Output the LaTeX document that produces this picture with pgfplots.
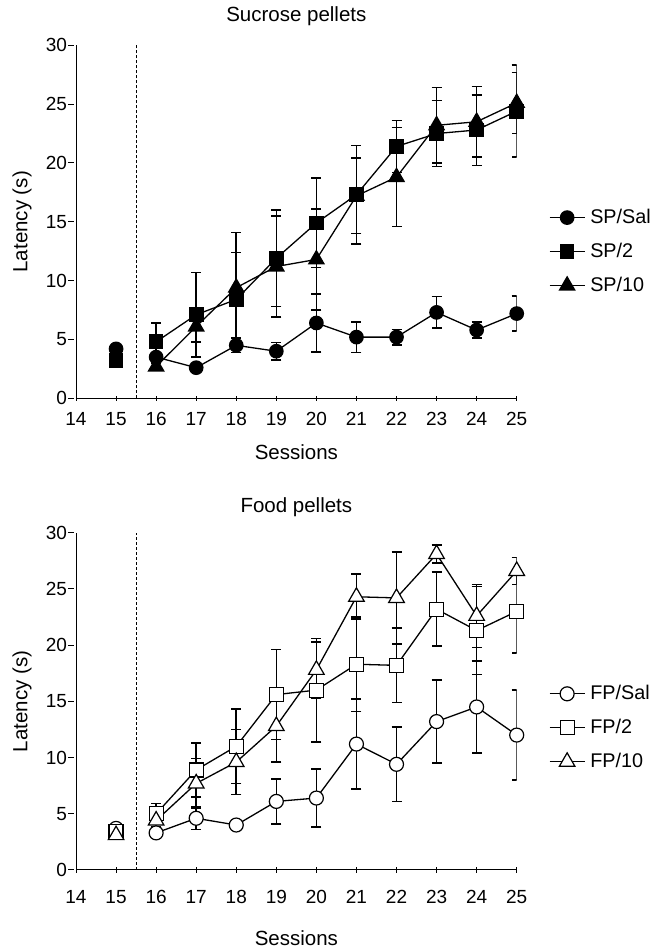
\documentclass[border=0pt]{standalone}
\usepackage{pgfplots}
\pgfplotsset{compat=1.18}
\usepackage{fontspec}
\setmainfont{Liberation Sans}

\newcommand{\fs}{\fontsize{20.5}{24}\selectfont}
\newcommand{\fl}{\fontsize{19.8}{24}\selectfont}
\newcommand{\ft}{\fontsize{19}{22}\selectfont}

\pgfplotsset{
  lat/.style={
    scale only axis, width=440.7pt, anchor=south west,
    xmin=14, xmax=25, ymin=0, ymax=30,
    xtick={14,...,25}, ytick={0,5,...,30},
    axis lines=left, axis line style={-, line width=1pt},
    tick style={line width=1pt, black}, major tick length=5pt,
    ytick style={xshift=-5pt},
    tick label style={font=\ft},
    /pgf/number format/assume math mode=true,
    yticklabel style={xshift=-3pt},
    label style={font=\fs},
    title style={font=\fs, anchor=base},
    ylabel={Latency (s)},
    y label style={at={([xshift=-54pt]axis description cs:0,0.5)}, anchor=center},
    legend cell align=left,
    legend style={draw=none, fill=none, font=\fl, anchor=north west,
      row sep=15pt, nodes={inner sep=0pt, text height=15pt, text depth=4pt},
      /tikz/every odd column/.style={column sep=5pt}},
    legend image code/.code={\draw[mark repeat=2, mark phase=2, #1]
      plot coordinates {(0pt,0pt) (17.5pt,0pt) (35pt,0pt)};},
  },
  ser/.style={black, line width=1.3pt,
    error bars/y dir=both, error bars/y explicit,
    error bars/error bar style={line width=1.6pt, black, solid},
    error bars/error mark options={rotate=90, mark size=5pt, line width=1.6pt, black}},
  fc/.style={ser, mark=*, mark size=6.7pt, mark options={solid, fill=black}},
  fs/.style={ser, mark=square*, mark size=6.7pt, mark options={solid, fill=black}},
  ft/.style={ser, mark=triangle*, mark size=8.7pt, mark options={solid, fill=black}},
  oc/.style={ser, mark=*, mark size=7pt, mark options={solid, fill=white, line width=1.2pt}},
  os/.style={ser, mark=square*, mark size=7pt, mark options={solid, fill=white, line width=1.2pt}},
  ot/.style={ser, mark=triangle*, mark size=9pt, mark options={solid, fill=white, line width=1.2pt}},
}

\begin{document}
\begin{tikzpicture}
\useasboundingbox (0,0) rectangle (651pt,949pt);

% Sucrose pellets
\begin{axis}[lat, at={(76pt,550.7pt)}, height=353pt,
  title={Sucrose pellets},
  title style={at={([yshift=17.5pt]axis description cs:0.5,1)}},
  xticklabel style={yshift=-8pt},
  xlabel={Sessions}, x label style={at={([yshift=-54pt]axis description cs:0.5,0)}, anchor=center},
  legend style={at={(1.066,0.545)}}]
\addplot[forget plot, black, line width=0.9pt, dash pattern=on 3pt off 2pt] coordinates {(15.5,0) (15.5,30)};
\addplot[fc, only marks, forget plot] coordinates {(15,4.2) +- (0,0.3)};
\addplot[fs, only marks, forget plot] coordinates {(15,3.2) +- (0,0.3)};
\addplot[fc] coordinates {
  (16,3.5) +- (0,0.4) (17,2.6) +- (0,0.3) (18,4.5) +- (0,0.6) (19,4.0) +- (0,0.75)
  (20,6.4) +- (0,2.45) (21,5.2) +- (0,1.3) (22,5.2) +- (0,0.65) (23,7.3) +- (0,1.35)
  (24,5.8) +- (0,0.7) (25,7.2) +- (0,1.5)};
\addlegendentry{SP/Sal}
\addplot[fs] coordinates {
  (16,4.8) +- (0,1.6) (17,7.1) +- (0,3.6) (18,8.4) +- (0,4.0) (19,11.9) +- (0,4.1)
  (20,14.9) +- (0,3.8) (21,17.3) +- (0,4.2) (22,21.4) +- (0,2.2) (23,22.5) +- (0,2.8)
  (24,22.8) +- (0,3.0) (25,24.4) +- (0,3.9)};
\addlegendentry{SP/2}
\addplot[ft] coordinates {
  (16,2.7) +- (0,0.3) (17,6.1) +- (0,1.3) (18,9.4) +- (0,4.7) (19,11.2) +- (0,4.3)
  (20,11.8) +- (0,4.3) (21,17.2) +- (0,3.2) (22,18.8) +- (0,4.2) (23,23.2) +- (0,3.2)
  (24,23.5) +- (0,3.0) (25,25.1) +- (0,2.6)};
\addlegendentry{SP/10}
\end{axis}

% Food pellets
\begin{axis}[lat, at={(76pt,79pt)}, height=337.3pt,
  title={Food pellets},
  title style={at={([yshift=14.5pt]axis description cs:0.5,1)}},
  xticklabel style={yshift=-14.7pt},
  xlabel={Sessions}, x label style={at={([yshift=-68pt]axis description cs:0.5,0)}, anchor=center},
  legend style={at={(1.066,0.557)}}]
\addplot[forget plot, black, line width=0.9pt, dash pattern=on 3pt off 2pt] coordinates {(15.5,0) (15.5,30)};
\addplot[oc, only marks, forget plot] coordinates {(15,3.7) +- (0,0.2)};
\addplot[os, only marks, forget plot] coordinates {(15,3.4) +- (0,0.3)};
\addplot[ot, only marks, forget plot] coordinates {(15,3.1) +- (0,0.3)};
\addplot[oc] coordinates {
  (16,3.3) +- (0,0.4) (17,4.6) +- (0,1.0) (18,4.0) +- (0,0.4) (19,6.1) +- (0,2.0)
  (20,6.4) +- (0,2.6) (21,11.2) +- (0,4.0) (22,9.4) +- (0,3.3) (23,13.2) +- (0,3.7)
  (24,14.5) +- (0,4.1) (25,12.0) +- (0,4.0)};
\addlegendentry{FP/Sal}
\addplot[os] coordinates {
  (16,5.0) +- (0,0.9) (17,8.9) +- (0,2.4) (18,11.0) +- (0,3.3) (19,15.6) +- (0,4.0)
  (20,16.0) +- (0,4.6) (21,18.3) +- (0,4.2) (22,18.2) +- (0,3.3) (23,23.2) +- (0,3.3)
  (24,21.3) +- (0,3.9) (25,23.0) +- (0,3.7)};
\addlegendentry{FP/2}
\addplot[ot] coordinates {
  (16,4.4) +- (0,0.6) (17,7.7) +- (0,2.2) (18,9.6) +- (0,2.9) (19,12.8) +- (0,3.2)
  (20,17.8) +- (0,2.5) (21,24.3) +- (0,2.0) (22,24.2) +- (0,4.1) (23,28.1) +- (0,0.8)
  (24,22.6) +- (0,2.8) (25,26.6) +- (0,1.2)};
\addlegendentry{FP/10}
\end{axis}
\end{tikzpicture}
\end{document}
